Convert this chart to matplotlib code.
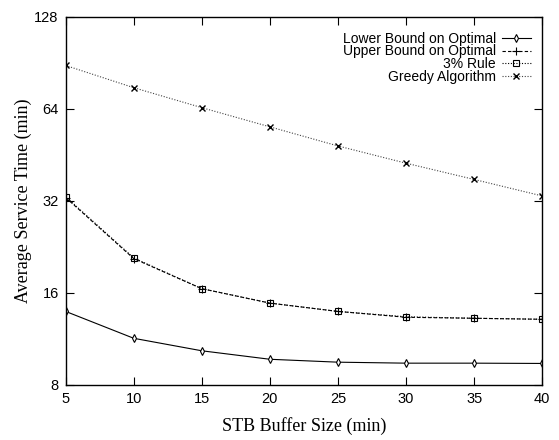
import matplotlib
matplotlib.use("Agg")
import matplotlib.pyplot as plt
from matplotlib.ticker import FixedLocator, NullLocator

buffer_size = [5, 10, 15, 20, 25, 30, 35, 40]
lower_bound = [13.9, 11.35, 10.33, 9.69, 9.48, 9.41, 9.41, 9.39]
upper_bound = [32.8, 20.7, 16.5, 14.8, 13.9, 13.3, 13.2, 13.1]
rule_3pct = [33.0, 20.8, 16.5, 14.8, 13.9, 13.35, 13.2, 13.1]
greedy = [88.8, 75.1, 64.6, 55.9, 48.4, 42.5, 37.6, 33.2]

y_ticks = [8, 16, 32, 64, 128]

sans = ["Liberation Sans", "DejaVu Sans"]
serif = ["Liberation Serif", "DejaVu Serif"]

fig = plt.figure(figsize=(5.59, 4.4), dpi=100)
ax = fig.add_axes([0.1175, 0.1257, 0.8525, 0.8357])

ax.plot(buffer_size, lower_bound, color="black", lw=0.8, ls="-",
        marker="d", ms=4, mfc="white", mec="black", mew=0.8,
        label="Lower Bound on Optimal")
ax.plot(buffer_size, upper_bound, color="black", lw=0.8, ls=(0, (3, 2)),
        marker="+", ms=6, mew=0.8, label="Upper Bound on Optimal")
ax.plot(buffer_size, rule_3pct, color="black", lw=0.8, ls=(0, (1, 1.5)),
        marker="s", ms=5, mfc="none", mec="black", mew=0.8,
        label="3% Rule")
ax.plot(buffer_size, greedy, color="#444444", lw=0.8, ls=(0, (1, 1.5)),
        marker="x", ms=5, mec="black", mew=1.0,
        label="Greedy Algorithm")

ax.set_yscale("log", base=2)
ax.set_xlim(5, 40)
ax.set_ylim(8, 128)
ax.set_xticks(buffer_size)
ax.yaxis.set_major_locator(FixedLocator(y_ticks))
ax.yaxis.set_minor_locator(NullLocator())
ax.set_yticklabels([str(t) for t in y_ticks])

ax.tick_params(direction="in", length=6, width=0.8, top=True, right=True,
               labelsize=10.5, pad=5)
for lab in ax.get_xticklabels() + ax.get_yticklabels():
    lab.set_family(sans)
for sp in ax.spines.values():
    sp.set_linewidth(1.0)

ax.set_xlabel("STB Buffer Size (min)", family=serif, fontsize=13, labelpad=8)
ax.set_ylabel("Average Service Time (min)", family=serif, fontsize=13, labelpad=2)

leg = ax.legend(loc="upper right", bbox_to_anchor=(0.995, 0.985),
                frameon=False, markerfirst=False, alignment="right",
                prop={"family": sans, "size": 10}, handlelength=2.1,
                handletextpad=0.4, labelspacing=-0.08, borderaxespad=0.25)
for t in leg.get_texts():
    t.set_ha("right")

fig.savefig("out.png", dpi=100)
